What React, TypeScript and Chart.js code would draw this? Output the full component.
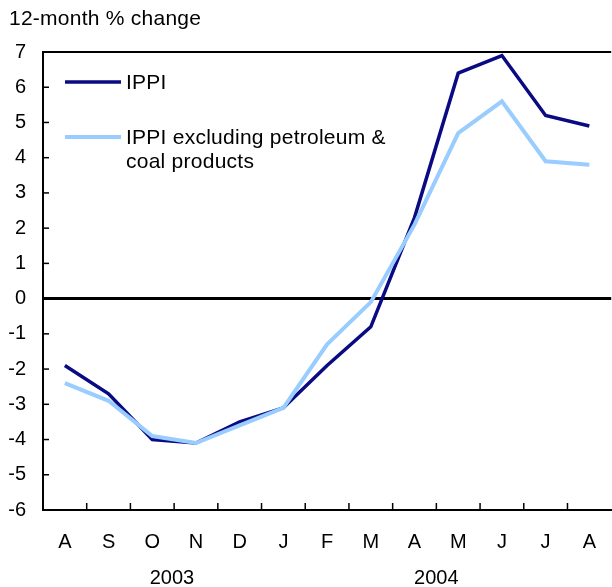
import React, { useEffect, useRef } from "react";
import Chart from "chart.js/auto";

const months = ["A", "S", "O", "N", "D", "J", "F", "M", "A", "M", "J", "J", "A"];
const ippi = [-1.9, -2.7, -4.0, -4.1, -3.5, -3.1, -1.9, -0.8, 2.3, 6.4, 6.9, 5.2, 4.9];
const ippiExPetroleum = [-2.4, -2.9, -3.9, -4.1, -3.6, -3.1, -1.3, -0.1, 2.1, 4.7, 5.6, 3.9, 3.8];
const yearLabels = ["2003", "2004"];
const yearCenters = [2.45, 8.5];
const seriesNames = ["IPPI", ["IPPI excluding petroleum &", "coal products"]];
const yTitle = "12-month % change";

const DARK = "#0a0a82";
const LIGHT = "#99ccff";
const FONT = '"Liberation Sans", Arial, sans-serif';
const FS = 20;

export default function App() {
  const ref = useRef<HTMLCanvasElement | null>(null);
  useEffect(() => {
    const canvas = ref.current;
    if (!canvas) return;
    const overlay = {
      id: "overlay",
      afterDraw(chart: any) {
        const ctx = chart.ctx;
        const x = chart.scales.x;
        const y = chart.scales.y;
        const area = chart.chartArea;
        ctx.save();
        ctx.strokeStyle = "#000";
        ctx.lineWidth = 1.5;
        for (let v = -6; v <= 7; v++) {
          const py = y.getPixelForValue(v);
          ctx.beginPath();
          ctx.moveTo(area.left, py);
          ctx.lineTo(area.left + 6, py);
          ctx.stroke();
        }
        for (let i = 0; i < months.length - 1; i++) {
          const px = (x.getPixelForValue(i) + x.getPixelForValue(i + 1)) / 2;
          ctx.beginPath();
          ctx.moveTo(px, area.bottom);
          ctx.lineTo(px, area.bottom - 7);
          ctx.stroke();
        }
        ctx.fillStyle = "#000";
        ctx.textBaseline = "middle";
        ctx.textAlign = "center";
        ctx.font = `${FS}px ${FONT}`;
        yearLabels.forEach((lab, i) => {
          const c = yearCenters[i];
          const px = x.getPixelForValue(Math.floor(c)) + (c - Math.floor(c)) * (x.getPixelForValue(1) - x.getPixelForValue(0));
          ctx.fillText(lab, px, 578);
        });
        ctx.font = `21px ${FONT}`;
        try { ctx.letterSpacing = "0.25px"; } catch (e) {}
        ctx.textAlign = "left";
        ctx.fillText(yTitle, 9, 19);
        const colors = [DARK, LIGHT];
        const rows = [82, 137];
        seriesNames.forEach((name, i) => {
          ctx.strokeStyle = colors[i];
          ctx.lineWidth = i === 0 ? 3.5 : 4;
          ctx.beginPath();
          ctx.moveTo(65, rows[i]);
          ctx.lineTo(121, rows[i]);
          ctx.stroke();
          const lines = Array.isArray(name) ? name : [name];
          lines.forEach((ln, j) => {
            ctx.fillText(ln, 126, rows[i] + 1 + j * 24);
          });
        });
        ctx.restore();
      },
    };
    const chart = new Chart(canvas, {
      type: "line",
      data: {
        labels: months,
        datasets: [
          {
            label: "IPPI excluding petroleum & coal products",
            data: ippiExPetroleum,
            borderColor: LIGHT,
            borderWidth: 4,
            pointRadius: 0,
            tension: 0,
          },
          {
            label: "IPPI",
            data: ippi,
            borderColor: DARK,
            borderWidth: 3.5,
            pointRadius: 0,
            tension: 0,
          },
        ],
      },
      options: {
        animation: false,
        responsive: false,
        events: [],
        layout: { padding: { top: 52, left: 0, right: 0, bottom: 0 } },
        plugins: { legend: { display: false }, tooltip: { enabled: false } },
        scales: {
          x: {
            offset: true,
            grid: { display: false, drawTicks: false },
            border: { display: true, color: "#000", width: 2 },
            ticks: { color: "#000", font: { family: FONT, size: FS }, padding: 20, maxRotation: 0, autoSkip: false },
            afterFit(scale: any) {
              scale.height = 77;
            },
          },
          y: {
            min: -6,
            max: 7,
            ticks: { stepSize: 1, color: "#000", font: { family: FONT, size: FS }, padding: 17 },
            grid: {
              drawTicks: false,
              color: (c: any) => (c.tick && (c.tick.value === 0 || c.tick.value === 7) ? "#000" : "rgba(0,0,0,0)"),
              lineWidth: (c: any) => (c.tick && c.tick.value === 0 ? 3 : 2),
            },
            border: { display: true, color: "#000", width: 2 },
            afterFit(scale: any) {
              scale.width = 43;
            },
          },
        },
      },
      plugins: [overlay],
    });
    return () => chart.destroy();
  }, []);
  return (
    <div style={{ position: "absolute", left: 0, top: 0, width: 612, height: 587, overflow: "hidden", background: "#fff" }}>
      <canvas ref={ref} width={616} height={587} style={{ display: "block" }} />
    </div>
  );
}
